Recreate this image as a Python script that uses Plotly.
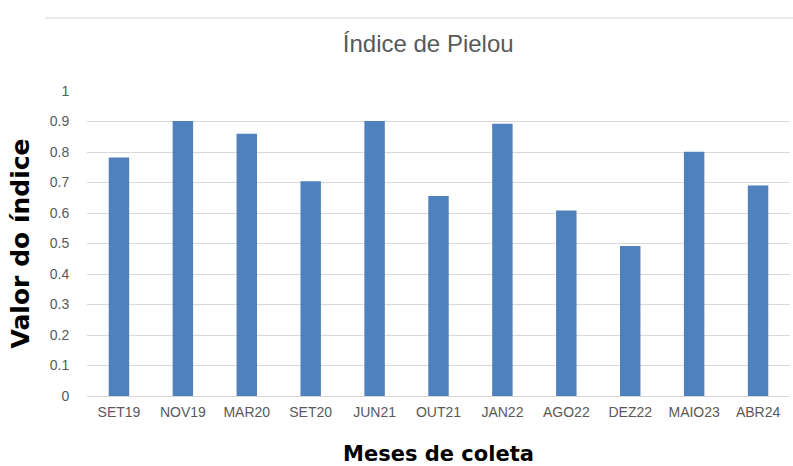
import plotly.graph_objects as go

months = ["SET19", "NOV19", "MAR20", "SET20", "JUN21", "OUT21", "JAN22", "AGO22", "DEZ22", "MAIO23", "ABR24"]
pielou = [0.782, 0.902, 0.860, 0.704, 0.902, 0.656, 0.893, 0.608, 0.492, 0.801, 0.690]
y_ticks = [0, 0.1, 0.2, 0.3, 0.4, 0.5, 0.6, 0.7, 0.8, 0.9, 1]
y_tick_text = ["0", "0.1", "0.2", "0.3", "0.4", "0.5", "0.6", "0.7", "0.8", "0.9", "1"]

BAR_COLOR = "#4F81BD"
GRID = "#D9D9D9"
TICK_FONT = dict(family="Liberation Sans, Arial, sans-serif", size=14, color="#595959")

fig = go.Figure(
    go.Bar(x=months, y=pielou, marker=dict(color=BAR_COLOR, line=dict(width=0)))
)

fig.update_layout(
    width=793,
    height=466,
    margin=dict(l=87, r=3, t=91, b=70, autoexpand=False),
    paper_bgcolor="white",
    plot_bgcolor="white",
    bargap=0.68,
    showlegend=False,
    title=dict(
        text="Índice de Pielou",
        x=0.54, xref="container", xanchor="center",
        y=1 - 44 / 466, yref="container", yanchor="middle",
        font=dict(family="Liberation Sans, Arial, sans-serif", size=24, color="#595959"),
    ),
    shapes=[
        dict(type="line", xref="paper", yref="paper",
             x0=-0.06, x1=1.01, y0=(396 - 18) / 305, y1=(396 - 18) / 305,
             line=dict(color="#E3E3E3", width=1.5)),
    ],
)

fig.update_xaxes(
    type="category",
    automargin=False,
    showgrid=False,
    showline=False,
    zeroline=False,
    ticks="outside", ticklen=3, tickcolor="rgba(0,0,0,0)",
    tickfont=TICK_FONT,
    title=dict(text="<b>Meses de coleta</b>", standoff=31,
               font=dict(family="DejaVu Sans, sans-serif", size=21, color="black")),
)

fig.update_yaxes(
    range=[0, 1.0],
    automargin=False,
    tickmode="array", tickvals=y_ticks, ticktext=y_tick_text,
    showgrid=True, gridcolor=GRID, gridwidth=1.3,
    zeroline=True, zerolinecolor=GRID, zerolinewidth=1.3,
    showline=False,
    ticks="outside", ticklen=14, tickcolor="rgba(0,0,0,0)",
    tickfont=TICK_FONT,
    title=dict(text="<b>Valor do índice</b>", standoff=12,
               font=dict(family="DejaVu Sans, sans-serif", size=25, color="black")),
)

fig.write_html(
    "out.html",
    config={"displayModeBar": False},
    post_script="document.body.style.margin='0';document.body.style.overflow='hidden';",
)
